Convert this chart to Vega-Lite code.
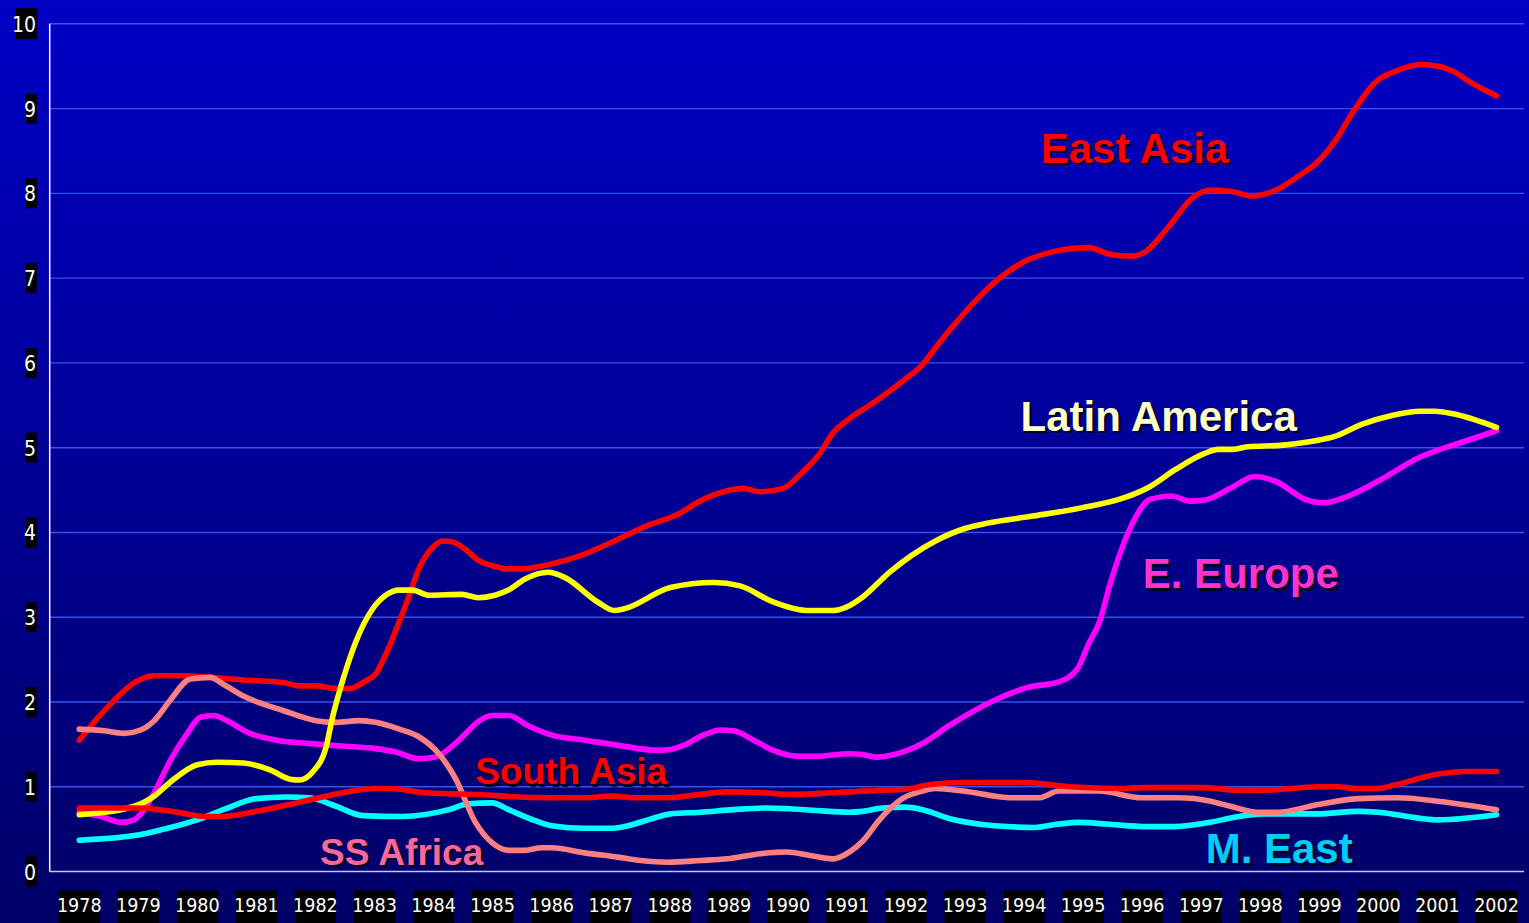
{
  "$schema": "https://vega.github.io/schema/vega-lite/v6.json",
  "width": 1529,
  "height": 923,
  "autosize": {"type": "none"},
  "padding": 0,
  "background": "#00008C",
  "config": {
    "view": {
      "stroke": null,
      "fill": {
        "gradient": "linear", "x1": 0, "y1": 0, "x2": 0, "y2": 1,
        "stops": [{"offset": 0, "color": "#0000C6"}, {"offset": 1, "color": "#000068"}]
      }
    }
  },
  "datasets": {
    "one": [{"k": 1}],
    "yticks": [{"v": 0}, {"v": 1}, {"v": 2}, {"v": 3}, {"v": 4}, {"v": 5}, {"v": 6}, {"v": 7}, {"v": 8}, {"v": 9}, {"v": 10}],
    "years": [{"year": 1978}, {"year": 1979}, {"year": 1980}, {"year": 1981}, {"year": 1982}, {"year": 1983}, {"year": 1984}, {"year": 1985}, {"year": 1986}, {"year": 1987}, {"year": 1988}, {"year": 1989}, {"year": 1990}, {"year": 1991}, {"year": 1992}, {"year": 1993}, {"year": 1994}, {"year": 1995}, {"year": 1996}, {"year": 1997}, {"year": 1998}, {"year": 1999}, {"year": 2000}, {"year": 2001}, {"year": 2002}],
    "labels": [
      {"label": "East Asia", "year": 1995.87, "v": 8.36, "group": "big"},
      {"label": "Latin America", "year": 1996.28, "v": 5.2, "group": "big"},
      {"label": "E. Europe", "year": 1997.67, "v": 3.34, "group": "big"},
      {"label": "South Asia", "year": 1986.33, "v": 1.03, "group": "small"},
      {"label": "SS Africa", "year": 1983.46, "v": 0.08, "group": "small"},
      {"label": "M. East", "year": 1998.32, "v": 0.1, "group": "big"}
    ],
    "series": [
      {"region": "M. East", "year": 1978, "v": 0.37},
      {"region": "M. East", "year": 1978.99, "v": 0.43},
      {"region": "M. East", "year": 1979.43, "v": 0.5},
      {"region": "M. East", "year": 1980.0, "v": 0.61},
      {"region": "M. East", "year": 1980.44, "v": 0.73},
      {"region": "M. East", "year": 1981.0, "v": 0.86},
      {"region": "M. East", "year": 1981.51, "v": 0.88},
      {"region": "M. East", "year": 1981.9, "v": 0.87},
      {"region": "M. East", "year": 1982.35, "v": 0.77},
      {"region": "M. East", "year": 1982.8, "v": 0.66},
      {"region": "M. East", "year": 1983.47, "v": 0.65},
      {"region": "M. East", "year": 1984.26, "v": 0.73},
      {"region": "M. East", "year": 1984.59, "v": 0.8},
      {"region": "M. East", "year": 1984.99, "v": 0.81},
      {"region": "M. East", "year": 1985.27, "v": 0.73},
      {"region": "M. East", "year": 1985.72, "v": 0.6},
      {"region": "M. East", "year": 1986.0, "v": 0.54},
      {"region": "M. East", "year": 1986.56, "v": 0.51},
      {"region": "M. East", "year": 1987.01, "v": 0.51},
      {"region": "M. East", "year": 1987.29, "v": 0.54},
      {"region": "M. East", "year": 1987.68, "v": 0.62},
      {"region": "M. East", "year": 1988.01, "v": 0.68},
      {"region": "M. East", "year": 1988.52, "v": 0.7},
      {"region": "M. East", "year": 1989.08, "v": 0.73},
      {"region": "M. East", "year": 1989.64, "v": 0.75},
      {"region": "M. East", "year": 1990.03, "v": 0.74},
      {"region": "M. East", "year": 1990.48, "v": 0.72},
      {"region": "M. East", "year": 1991.04, "v": 0.7},
      {"region": "M. East", "year": 1991.27, "v": 0.71},
      {"region": "M. East", "year": 1991.6, "v": 0.75},
      {"region": "M. East", "year": 1991.99, "v": 0.76},
      {"region": "M. East", "year": 1992.28, "v": 0.73},
      {"region": "M. East", "year": 1992.76, "v": 0.62},
      {"region": "M. East", "year": 1993.51, "v": 0.54},
      {"region": "M. East", "year": 1994.18, "v": 0.52},
      {"region": "M. East", "year": 1994.59, "v": 0.56},
      {"region": "M. East", "year": 1994.93, "v": 0.58},
      {"region": "M. East", "year": 1995.4, "v": 0.56},
      {"region": "M. East", "year": 1996.07, "v": 0.53},
      {"region": "M. East", "year": 1996.54, "v": 0.53},
      {"region": "M. East", "year": 1997.15, "v": 0.58},
      {"region": "M. East", "year": 1997.56, "v": 0.64},
      {"region": "M. East", "year": 1998.03, "v": 0.68},
      {"region": "M. East", "year": 1998.96, "v": 0.68},
      {"region": "M. East", "year": 1999.65, "v": 0.71},
      {"region": "M. East", "year": 2000.0, "v": 0.7},
      {"region": "M. East", "year": 2000.68, "v": 0.63},
      {"region": "M. East", "year": 2001.01, "v": 0.61},
      {"region": "M. East", "year": 2002, "v": 0.67},

      {"region": "E. Europe", "year": 1978, "v": 0.7},
      {"region": "E. Europe", "year": 1978.37, "v": 0.65},
      {"region": "E. Europe", "year": 1978.71, "v": 0.58},
      {"region": "E. Europe", "year": 1978.93, "v": 0.61},
      {"region": "E. Europe", "year": 1979.1, "v": 0.73},
      {"region": "E. Europe", "year": 1979.32, "v": 1.0},
      {"region": "E. Europe", "year": 1979.55, "v": 1.32},
      {"region": "E. Europe", "year": 1979.83, "v": 1.63},
      {"region": "E. Europe", "year": 1980.05, "v": 1.82},
      {"region": "E. Europe", "year": 1980.28, "v": 1.84},
      {"region": "E. Europe", "year": 1980.5, "v": 1.78},
      {"region": "E. Europe", "year": 1980.89, "v": 1.63},
      {"region": "E. Europe", "year": 1981.34, "v": 1.55},
      {"region": "E. Europe", "year": 1981.9, "v": 1.51},
      {"region": "E. Europe", "year": 1982.46, "v": 1.48},
      {"region": "E. Europe", "year": 1983.02, "v": 1.45},
      {"region": "E. Europe", "year": 1983.36, "v": 1.41},
      {"region": "E. Europe", "year": 1983.75, "v": 1.33},
      {"region": "E. Europe", "year": 1984.03, "v": 1.35},
      {"region": "E. Europe", "year": 1984.43, "v": 1.55},
      {"region": "E. Europe", "year": 1984.76, "v": 1.77},
      {"region": "E. Europe", "year": 1984.99, "v": 1.84},
      {"region": "E. Europe", "year": 1985.27, "v": 1.84},
      {"region": "E. Europe", "year": 1985.6, "v": 1.72},
      {"region": "E. Europe", "year": 1986.0, "v": 1.61},
      {"region": "E. Europe", "year": 1986.56, "v": 1.55},
      {"region": "E. Europe", "year": 1987.12, "v": 1.49},
      {"region": "E. Europe", "year": 1987.79, "v": 1.43},
      {"region": "E. Europe", "year": 1988.01, "v": 1.44},
      {"region": "E. Europe", "year": 1988.24, "v": 1.49},
      {"region": "E. Europe", "year": 1988.57, "v": 1.61},
      {"region": "E. Europe", "year": 1988.86, "v": 1.67},
      {"region": "E. Europe", "year": 1989.08, "v": 1.66},
      {"region": "E. Europe", "year": 1989.47, "v": 1.53},
      {"region": "E. Europe", "year": 1989.75, "v": 1.43},
      {"region": "E. Europe", "year": 1990.2, "v": 1.36},
      {"region": "E. Europe", "year": 1990.48, "v": 1.36},
      {"region": "E. Europe", "year": 1991.04, "v": 1.39},
      {"region": "E. Europe", "year": 1991.27, "v": 1.38},
      {"region": "E. Europe", "year": 1991.49, "v": 1.35},
      {"region": "E. Europe", "year": 1991.99, "v": 1.42},
      {"region": "E. Europe", "year": 1992.28, "v": 1.51},
      {"region": "E. Europe", "year": 1992.73, "v": 1.72},
      {"region": "E. Europe", "year": 1993.5, "v": 2.02},
      {"region": "E. Europe", "year": 1994.05, "v": 2.17},
      {"region": "E. Europe", "year": 1994.6, "v": 2.24},
      {"region": "E. Europe", "year": 1994.91, "v": 2.4},
      {"region": "E. Europe", "year": 1995.09, "v": 2.68},
      {"region": "E. Europe", "year": 1995.28, "v": 2.95},
      {"region": "E. Europe", "year": 1995.46, "v": 3.4},
      {"region": "E. Europe", "year": 1995.64, "v": 3.78},
      {"region": "E. Europe", "year": 1995.89, "v": 4.18},
      {"region": "E. Europe", "year": 1996.13, "v": 4.39},
      {"region": "E. Europe", "year": 1996.5, "v": 4.43},
      {"region": "E. Europe", "year": 1996.8, "v": 4.37},
      {"region": "E. Europe", "year": 1997.05, "v": 4.38},
      {"region": "E. Europe", "year": 1997.54, "v": 4.54},
      {"region": "E. Europe", "year": 1997.9, "v": 4.66},
      {"region": "E. Europe", "year": 1998.27, "v": 4.6},
      {"region": "E. Europe", "year": 1998.76, "v": 4.39},
      {"region": "E. Europe", "year": 1999.06, "v": 4.35},
      {"region": "E. Europe", "year": 1999.49, "v": 4.43},
      {"region": "E. Europe", "year": 1999.98, "v": 4.6},
      {"region": "E. Europe", "year": 2000.71, "v": 4.89},
      {"region": "E. Europe", "year": 2001.44, "v": 5.07},
      {"region": "E. Europe", "year": 2002, "v": 5.2},

      {"region": "East Asia", "year": 1978, "v": 1.55},
      {"region": "East Asia", "year": 1978.48, "v": 1.94},
      {"region": "East Asia", "year": 1978.99, "v": 2.25},
      {"region": "East Asia", "year": 1979.27, "v": 2.31},
      {"region": "East Asia", "year": 1979.77, "v": 2.31},
      {"region": "East Asia", "year": 1980.22, "v": 2.29},
      {"region": "East Asia", "year": 1980.78, "v": 2.26},
      {"region": "East Asia", "year": 1981.45, "v": 2.23},
      {"region": "East Asia", "year": 1981.73, "v": 2.19},
      {"region": "East Asia", "year": 1982.01, "v": 2.19},
      {"region": "East Asia", "year": 1982.35, "v": 2.16},
      {"region": "East Asia", "year": 1982.58, "v": 2.16},
      {"region": "East Asia", "year": 1982.85, "v": 2.25},
      {"region": "East Asia", "year": 1983.02, "v": 2.33},
      {"region": "East Asia", "year": 1983.19, "v": 2.56},
      {"region": "East Asia", "year": 1983.42, "v": 2.95},
      {"region": "East Asia", "year": 1983.59, "v": 3.26},
      {"region": "East Asia", "year": 1983.75, "v": 3.57},
      {"region": "East Asia", "year": 1983.98, "v": 3.82},
      {"region": "East Asia", "year": 1984.15, "v": 3.9},
      {"region": "East Asia", "year": 1984.31, "v": 3.89},
      {"region": "East Asia", "year": 1984.54, "v": 3.8},
      {"region": "East Asia", "year": 1984.76, "v": 3.67},
      {"region": "East Asia", "year": 1985.04, "v": 3.6},
      {"region": "East Asia", "year": 1985.27, "v": 3.57},
      {"region": "East Asia", "year": 1985.49, "v": 3.57},
      {"region": "East Asia", "year": 1985.94, "v": 3.62},
      {"region": "East Asia", "year": 1986.5, "v": 3.73},
      {"region": "East Asia", "year": 1987.06, "v": 3.9},
      {"region": "East Asia", "year": 1987.62, "v": 4.08},
      {"region": "East Asia", "year": 1988.18, "v": 4.23},
      {"region": "East Asia", "year": 1988.46, "v": 4.35},
      {"region": "East Asia", "year": 1989.02, "v": 4.5},
      {"region": "East Asia", "year": 1989.25, "v": 4.52},
      {"region": "East Asia", "year": 1989.53, "v": 4.48},
      {"region": "East Asia", "year": 1989.92, "v": 4.52},
      {"region": "East Asia", "year": 1990.26, "v": 4.72},
      {"region": "East Asia", "year": 1990.54, "v": 4.93},
      {"region": "East Asia", "year": 1990.76, "v": 5.17},
      {"region": "East Asia", "year": 1991.04, "v": 5.34},
      {"region": "East Asia", "year": 1991.49, "v": 5.55},
      {"region": "East Asia", "year": 1991.99, "v": 5.81},
      {"region": "East Asia", "year": 1992.28, "v": 5.98},
      {"region": "East Asia", "year": 1992.5, "v": 6.18},
      {"region": "East Asia", "year": 1992.84, "v": 6.47},
      {"region": "East Asia", "year": 1993.5, "v": 6.95},
      {"region": "East Asia", "year": 1993.99, "v": 7.19},
      {"region": "East Asia", "year": 1994.48, "v": 7.31},
      {"region": "East Asia", "year": 1995.09, "v": 7.36},
      {"region": "East Asia", "year": 1995.46, "v": 7.28},
      {"region": "East Asia", "year": 1995.82, "v": 7.26},
      {"region": "East Asia", "year": 1996.07, "v": 7.32},
      {"region": "East Asia", "year": 1996.44, "v": 7.6},
      {"region": "East Asia", "year": 1996.86, "v": 7.95},
      {"region": "East Asia", "year": 1997.17, "v": 8.04},
      {"region": "East Asia", "year": 1997.54, "v": 8.02},
      {"region": "East Asia", "year": 1997.84, "v": 7.97},
      {"region": "East Asia", "year": 1998.27, "v": 8.04},
      {"region": "East Asia", "year": 1998.64, "v": 8.2},
      {"region": "East Asia", "year": 1999.0, "v": 8.39},
      {"region": "East Asia", "year": 1999.28, "v": 8.63},
      {"region": "East Asia", "year": 1999.55, "v": 8.94},
      {"region": "East Asia", "year": 1999.98, "v": 9.33},
      {"region": "East Asia", "year": 2000.29, "v": 9.44},
      {"region": "East Asia", "year": 2000.71, "v": 9.52},
      {"region": "East Asia", "year": 2001.02, "v": 9.5},
      {"region": "East Asia", "year": 2001.26, "v": 9.44},
      {"region": "East Asia", "year": 2001.56, "v": 9.31},
      {"region": "East Asia", "year": 2002, "v": 9.15},

      {"region": "SS Africa", "year": 1978, "v": 1.68},
      {"region": "SS Africa", "year": 1978.43, "v": 1.66},
      {"region": "SS Africa", "year": 1978.76, "v": 1.63},
      {"region": "SS Africa", "year": 1979.04, "v": 1.67},
      {"region": "SS Africa", "year": 1979.27, "v": 1.78},
      {"region": "SS Africa", "year": 1979.55, "v": 2.03},
      {"region": "SS Africa", "year": 1979.88, "v": 2.27},
      {"region": "SS Africa", "year": 1980.22, "v": 2.29},
      {"region": "SS Africa", "year": 1980.44, "v": 2.21},
      {"region": "SS Africa", "year": 1980.78, "v": 2.07},
      {"region": "SS Africa", "year": 1981.45, "v": 1.9},
      {"region": "SS Africa", "year": 1982.01, "v": 1.78},
      {"region": "SS Africa", "year": 1982.35, "v": 1.76},
      {"region": "SS Africa", "year": 1982.74, "v": 1.78},
      {"region": "SS Africa", "year": 1983.02, "v": 1.76},
      {"region": "SS Africa", "year": 1983.42, "v": 1.68},
      {"region": "SS Africa", "year": 1983.75, "v": 1.59},
      {"region": "SS Africa", "year": 1984.09, "v": 1.39},
      {"region": "SS Africa", "year": 1984.37, "v": 1.1},
      {"region": "SS Africa", "year": 1984.71, "v": 0.58},
      {"region": "SS Africa", "year": 1984.99, "v": 0.34},
      {"region": "SS Africa", "year": 1985.27, "v": 0.25},
      {"region": "SS Africa", "year": 1985.55, "v": 0.25},
      {"region": "SS Africa", "year": 1985.83, "v": 0.28},
      {"region": "SS Africa", "year": 1986.0, "v": 0.28},
      {"region": "SS Africa", "year": 1986.56, "v": 0.22},
      {"region": "SS Africa", "year": 1987.12, "v": 0.17},
      {"region": "SS Africa", "year": 1987.51, "v": 0.13},
      {"region": "SS Africa", "year": 1987.96, "v": 0.11},
      {"region": "SS Africa", "year": 1988.52, "v": 0.13},
      {"region": "SS Africa", "year": 1988.97, "v": 0.15},
      {"region": "SS Africa", "year": 1989.53, "v": 0.21},
      {"region": "SS Africa", "year": 1989.98, "v": 0.23},
      {"region": "SS Africa", "year": 1990.37, "v": 0.19},
      {"region": "SS Africa", "year": 1990.76, "v": 0.15},
      {"region": "SS Africa", "year": 1991.04, "v": 0.23},
      {"region": "SS Africa", "year": 1991.27, "v": 0.36},
      {"region": "SS Africa", "year": 1991.55, "v": 0.61},
      {"region": "SS Africa", "year": 1991.94, "v": 0.86},
      {"region": "SS Africa", "year": 1992.28, "v": 0.95},
      {"region": "SS Africa", "year": 1992.5, "v": 0.98},
      {"region": "SS Africa", "year": 1992.97, "v": 0.95},
      {"region": "SS Africa", "year": 1993.78, "v": 0.87},
      {"region": "SS Africa", "year": 1994.25, "v": 0.87},
      {"region": "SS Africa", "year": 1994.59, "v": 0.95},
      {"region": "SS Africa", "year": 1995.26, "v": 0.95},
      {"region": "SS Africa", "year": 1996.0, "v": 0.87},
      {"region": "SS Africa", "year": 1996.61, "v": 0.87},
      {"region": "SS Africa", "year": 1997.16, "v": 0.83},
      {"region": "SS Africa", "year": 1997.49, "v": 0.77},
      {"region": "SS Africa", "year": 1997.96, "v": 0.7},
      {"region": "SS Africa", "year": 1998.3, "v": 0.7},
      {"region": "SS Africa", "year": 1998.98, "v": 0.79},
      {"region": "SS Africa", "year": 1999.65, "v": 0.86},
      {"region": "SS Africa", "year": 2000.33, "v": 0.87},
      {"region": "SS Africa", "year": 2001.0, "v": 0.83},
      {"region": "SS Africa", "year": 2002, "v": 0.73},

      {"region": "Latin America", "year": 1978, "v": 0.67},
      {"region": "Latin America", "year": 1978.93, "v": 0.77},
      {"region": "Latin America", "year": 1979.27, "v": 0.89},
      {"region": "Latin America", "year": 1979.55, "v": 1.06},
      {"region": "Latin America", "year": 1980.0, "v": 1.26},
      {"region": "Latin America", "year": 1980.33, "v": 1.29},
      {"region": "Latin America", "year": 1980.78, "v": 1.28},
      {"region": "Latin America", "year": 1981.23, "v": 1.2},
      {"region": "Latin America", "year": 1981.57, "v": 1.09},
      {"region": "Latin America", "year": 1981.73, "v": 1.08},
      {"region": "Latin America", "year": 1981.96, "v": 1.18},
      {"region": "Latin America", "year": 1982.18, "v": 1.47},
      {"region": "Latin America", "year": 1982.29, "v": 1.82},
      {"region": "Latin America", "year": 1982.46, "v": 2.25},
      {"region": "Latin America", "year": 1982.69, "v": 2.72},
      {"region": "Latin America", "year": 1982.97, "v": 3.1},
      {"region": "Latin America", "year": 1983.19, "v": 3.26},
      {"region": "Latin America", "year": 1983.42, "v": 3.32},
      {"region": "Latin America", "year": 1983.64, "v": 3.32},
      {"region": "Latin America", "year": 1983.92, "v": 3.26},
      {"region": "Latin America", "year": 1984.48, "v": 3.27},
      {"region": "Latin America", "year": 1984.76, "v": 3.23},
      {"region": "Latin America", "year": 1985.04, "v": 3.26},
      {"region": "Latin America", "year": 1985.27, "v": 3.32},
      {"region": "Latin America", "year": 1985.55, "v": 3.45},
      {"region": "Latin America", "year": 1985.94, "v": 3.53},
      {"region": "Latin America", "year": 1986.22, "v": 3.47},
      {"region": "Latin America", "year": 1986.78, "v": 3.18},
      {"region": "Latin America", "year": 1987.06, "v": 3.08},
      {"region": "Latin America", "year": 1987.23, "v": 3.1},
      {"region": "Latin America", "year": 1988.01, "v": 3.35},
      {"region": "Latin America", "year": 1988.74, "v": 3.41},
      {"region": "Latin America", "year": 1989.19, "v": 3.37},
      {"region": "Latin America", "year": 1989.75, "v": 3.18},
      {"region": "Latin America", "year": 1990.31, "v": 3.08},
      {"region": "Latin America", "year": 1990.76, "v": 3.08},
      {"region": "Latin America", "year": 1990.99, "v": 3.12},
      {"region": "Latin America", "year": 1991.27, "v": 3.24},
      {"region": "Latin America", "year": 1991.72, "v": 3.53},
      {"region": "Latin America", "year": 1992.5, "v": 3.9},
      {"region": "Latin America", "year": 1993.01, "v": 4.05},
      {"region": "Latin America", "year": 1993.38, "v": 4.11},
      {"region": "Latin America", "year": 1994.12, "v": 4.19},
      {"region": "Latin America", "year": 1994.97, "v": 4.29},
      {"region": "Latin America", "year": 1995.7, "v": 4.41},
      {"region": "Latin America", "year": 1996.13, "v": 4.54},
      {"region": "Latin America", "year": 1996.56, "v": 4.74},
      {"region": "Latin America", "year": 1997.05, "v": 4.93},
      {"region": "Latin America", "year": 1997.29, "v": 4.98},
      {"region": "Latin America", "year": 1997.54, "v": 4.98},
      {"region": "Latin America", "year": 1997.78, "v": 5.01},
      {"region": "Latin America", "year": 1998.39, "v": 5.03},
      {"region": "Latin America", "year": 1999.0, "v": 5.09},
      {"region": "Latin America", "year": 1999.25, "v": 5.13},
      {"region": "Latin America", "year": 1999.74, "v": 5.28},
      {"region": "Latin America", "year": 2000.23, "v": 5.38},
      {"region": "Latin America", "year": 2000.71, "v": 5.43},
      {"region": "Latin America", "year": 2000.96, "v": 5.43},
      {"region": "Latin America", "year": 2001.26, "v": 5.4},
      {"region": "Latin America", "year": 2002, "v": 5.24},

      {"region": "South Asia", "year": 1978, "v": 0.75},
      {"region": "South Asia", "year": 1978.99, "v": 0.75},
      {"region": "South Asia", "year": 1979.66, "v": 0.7},
      {"region": "South Asia", "year": 1980.11, "v": 0.65},
      {"region": "South Asia", "year": 1980.44, "v": 0.65},
      {"region": "South Asia", "year": 1981.0, "v": 0.71},
      {"region": "South Asia", "year": 1981.68, "v": 0.81},
      {"region": "South Asia", "year": 1982.46, "v": 0.93},
      {"region": "South Asia", "year": 1983.02, "v": 0.98},
      {"region": "South Asia", "year": 1983.25, "v": 0.98},
      {"region": "South Asia", "year": 1983.86, "v": 0.93},
      {"region": "South Asia", "year": 1984.99, "v": 0.9},
      {"region": "South Asia", "year": 1985.15, "v": 0.89},
      {"region": "South Asia", "year": 1986.0, "v": 0.87},
      {"region": "South Asia", "year": 1986.56, "v": 0.87},
      {"region": "South Asia", "year": 1987.01, "v": 0.89},
      {"region": "South Asia", "year": 1987.45, "v": 0.87},
      {"region": "South Asia", "year": 1987.96, "v": 0.87},
      {"region": "South Asia", "year": 1988.52, "v": 0.91},
      {"region": "South Asia", "year": 1988.97, "v": 0.94},
      {"region": "South Asia", "year": 1989.53, "v": 0.93},
      {"region": "South Asia", "year": 1990.09, "v": 0.91},
      {"region": "South Asia", "year": 1990.76, "v": 0.93},
      {"region": "South Asia", "year": 1991.32, "v": 0.95},
      {"region": "South Asia", "year": 1991.99, "v": 0.97},
      {"region": "South Asia", "year": 1992.44, "v": 1.03},
      {"region": "South Asia", "year": 1992.97, "v": 1.05},
      {"region": "South Asia", "year": 1993.98, "v": 1.05},
      {"region": "South Asia", "year": 1994.79, "v": 1.0},
      {"region": "South Asia", "year": 1995.6, "v": 0.98},
      {"region": "South Asia", "year": 1996.07, "v": 0.99},
      {"region": "South Asia", "year": 1997.02, "v": 0.99},
      {"region": "South Asia", "year": 1997.63, "v": 0.96},
      {"region": "South Asia", "year": 1998.1, "v": 0.96},
      {"region": "South Asia", "year": 1998.98, "v": 1.0},
      {"region": "South Asia", "year": 1999.32, "v": 1.0},
      {"region": "South Asia", "year": 1999.59, "v": 0.98},
      {"region": "South Asia", "year": 2000.0, "v": 0.98},
      {"region": "South Asia", "year": 2000.27, "v": 1.02},
      {"region": "South Asia", "year": 2001.01, "v": 1.15},
      {"region": "South Asia", "year": 2001.48, "v": 1.18},
      {"region": "South Asia", "year": 2002, "v": 1.18}
    ]
  },
  "layer": [
    {
      "data": {"name": "yticks"},
      "transform": [{"filter": "datum.v > 0"}],
      "mark": {"type": "rule", "color": "#3355EE", "strokeWidth": 1.4},
      "encoding": {
        "y": {"field": "v", "type": "quantitative", "scale": {"domain": [-0.548, 10.222], "nice": false, "zero": false}, "axis": null},
        "x": {"datum": 1977.5, "type": "quantitative", "scale": {"domain": [1976.743, 2002.466], "nice": false, "zero": false}, "axis": null},
        "x2": {"datum": 2002.466}
      }
    },
    {
      "data": {"name": "one"},
      "mark": {"type": "rule", "color": "#FFFFFF", "strokeWidth": 1.5},
      "encoding": {
        "x": {"datum": 1977.5, "type": "quantitative", "scale": {"domain": [1976.743, 2002.466], "nice": false, "zero": false}, "axis": null},
        "y": {"datum": 0, "type": "quantitative", "scale": {"domain": [-0.548, 10.222], "nice": false, "zero": false}, "axis": null},
        "y2": {"datum": 10}
      }
    },
    {
      "data": {"name": "one"},
      "mark": {"type": "rule", "color": "#C8C8EC", "strokeWidth": 1.5},
      "encoding": {
        "x": {"datum": 1977.5, "type": "quantitative", "scale": {"domain": [1976.743, 2002.466], "nice": false, "zero": false}, "axis": null},
        "x2": {"datum": 2002.466},
        "y": {"datum": 0, "type": "quantitative", "scale": {"domain": [-0.548, 10.222], "nice": false, "zero": false}, "axis": null}
      }
    },
    {
      "data": {"name": "series"},
      "mark": {"type": "line", "strokeWidth": 5.6, "interpolate": "monotone", "strokeCap": "round", "strokeJoin": "round"},
      "encoding": {
        "x": {
          "field": "year", "type": "quantitative",
          "scale": {"domain": [1976.743, 2002.466], "nice": false, "zero": false},
          "axis": {"orient": "bottom", "offset": -47, "values": [1977.5, 1978.5, 1979.5, 1980.5, 1981.5, 1982.5, 1983.5, 1984.5, 1985.5, 1986.5, 1987.5, 1988.5, 1989.5, 1990.5, 1991.5, 1992.5, 1993.5, 1994.5, 1995.5, 1996.5, 1997.5, 1998.5, 1999.5, 2000.5, 2001.5], "labels": false, "domain": false, "grid": false, "tickSize": 6, "tickColor": "#C8C8EC", "tickWidth": 1.5, "title": null}
        },
        "y": {
          "field": "v", "type": "quantitative",
          "scale": {"domain": [-0.548, 10.222], "nice": false, "zero": false},
          "axis": {"orient": "left", "offset": -45, "values": [0, 1, 2, 3, 4, 5, 6, 7, 8, 9, 10], "labels": false, "domain": false, "grid": false, "tickSize": 5, "tickColor": "#FFFFFF", "tickWidth": 1.5, "title": null}
        },
        "stroke": {
          "field": "region", "type": "nominal", "legend": null,
          "scale": {"domain": ["M. East", "E. Europe", "East Asia", "SS Africa", "Latin America", "South Asia"], "range": ["#00FFFF", "#FF00FF", "#FF0000", "#FF8080", "#FFFF00", "#FF0000"]}
        }
      }
    },
    {
      "data": {"name": "yticks"},
      "transform": [{"filter": "datum.v < 10"}],
      "mark": {"type": "bar", "color": "#000000", "height": 30},
      "encoding": {
        "y": {"field": "v", "type": "quantitative", "scale": {"domain": [-0.548, 10.222], "nice": false, "zero": false}, "axis": null},
        "x": {"datum": 1977.096, "type": "quantitative", "scale": {"domain": [1976.743, 2002.466], "nice": false, "zero": false}, "axis": null},
        "x2": {"datum": 1977.281}
      }
    },
    {
      "data": {"name": "yticks"},
      "transform": [{"filter": "datum.v == 10"}],
      "mark": {"type": "bar", "color": "#000000", "height": 31},
      "encoding": {
        "y": {"field": "v", "type": "quantitative", "scale": {"domain": [-0.548, 10.222], "nice": false, "zero": false}, "axis": null},
        "x": {"datum": 1976.928, "type": "quantitative", "scale": {"domain": [1976.743, 2002.466], "nice": false, "zero": false}, "axis": null},
        "x2": {"datum": 1977.281}
      }
    },
    {
      "data": {"name": "yticks"},
      "mark": {"type": "text", "color": "#FFFFFF", "font": "Liberation Sans Narrow, Arial Narrow, DejaVu Sans Condensed, Liberation Sans", "fontSize": 21, "align": "right", "baseline": "alphabetic", "dy": 8},
      "encoding": {
        "y": {"field": "v", "type": "quantitative", "scale": {"domain": [-0.548, 10.222], "nice": false, "zero": false}, "axis": null},
        "x": {"datum": 1977.268, "type": "quantitative", "scale": {"domain": [1976.743, 2002.466], "nice": false, "zero": false}, "axis": null},
        "text": {"field": "v", "type": "quantitative", "format": "d"}
      }
    },
    {
      "data": {"name": "years"},
      "mark": {"type": "bar", "color": "#000000", "width": 41},
      "encoding": {
        "x": {"field": "year", "type": "quantitative", "scale": {"domain": [1976.743, 2002.466], "nice": false, "zero": false}, "axis": null},
        "y": {"datum": -0.222, "type": "quantitative", "scale": {"domain": [-0.548, 10.222], "nice": false, "zero": false}, "axis": null},
        "y2": {"datum": -0.7}
      }
    },
    {
      "data": {"name": "years"},
      "mark": {"type": "text", "color": "#FFFFFF", "font": "Liberation Sans Narrow, Arial Narrow, DejaVu Sans Condensed, Liberation Sans", "fontSize": 19.5, "align": "center", "baseline": "alphabetic"},
      "encoding": {
        "x": {"field": "year", "type": "quantitative", "scale": {"domain": [1976.743, 2002.466], "nice": false, "zero": false}, "axis": null},
        "y": {"datum": -0.479, "type": "quantitative", "scale": {"domain": [-0.548, 10.222], "nice": false, "zero": false}, "axis": null},
        "text": {"field": "year", "type": "quantitative", "format": "d"}
      }
    },
    {
      "data": {"name": "labels"},
      "transform": [{"filter": "datum.group == 'big'"}],
      "mark": {"type": "text", "color": "#000020", "font": "Liberation Sans, Arial, sans-serif", "fontWeight": "bold", "fontSize": 42, "align": "center", "baseline": "alphabetic", "dx": 2.5, "dy": 2.5},
      "encoding": {
        "x": {"field": "year", "type": "quantitative", "scale": {"domain": [1976.743, 2002.466], "nice": false, "zero": false}, "axis": null},
        "y": {"field": "v", "type": "quantitative", "scale": {"domain": [-0.548, 10.222], "nice": false, "zero": false}, "axis": null},
        "text": {"field": "label", "type": "nominal"}
      }
    },
    {
      "data": {"name": "labels"},
      "transform": [{"filter": "datum.group == 'small'"}],
      "mark": {"type": "text", "color": "#000020", "font": "Liberation Sans, Arial, sans-serif", "fontWeight": "bold", "fontSize": 37, "align": "center", "baseline": "alphabetic", "dx": 2.5, "dy": 2.5},
      "encoding": {
        "x": {"field": "year", "type": "quantitative", "scale": {"domain": [1976.743, 2002.466], "nice": false, "zero": false}, "axis": null},
        "y": {"field": "v", "type": "quantitative", "scale": {"domain": [-0.548, 10.222], "nice": false, "zero": false}, "axis": null},
        "text": {"field": "label", "type": "nominal"}
      }
    },
    {
      "data": {"name": "labels"},
      "transform": [{"filter": "datum.group == 'big'"}],
      "mark": {"type": "text", "font": "Liberation Sans, Arial, sans-serif", "fontWeight": "bold", "fontSize": 42, "align": "center", "baseline": "alphabetic"},
      "encoding": {
        "x": {"field": "year", "type": "quantitative", "scale": {"domain": [1976.743, 2002.466], "nice": false, "zero": false}, "axis": null},
        "y": {"field": "v", "type": "quantitative", "scale": {"domain": [-0.548, 10.222], "nice": false, "zero": false}, "axis": null},
        "text": {"field": "label", "type": "nominal"},
        "fill": {
          "field": "label", "type": "nominal", "legend": null,
          "scale": {"domain": ["East Asia", "Latin America", "E. Europe", "South Asia", "SS Africa", "M. East"], "range": ["#FF0000", "#FFFFCC", "#FF33CC", "#FF0000", "#FF6699", "#00CCFF"]}
        }
      }
    },
    {
      "data": {"name": "labels"},
      "transform": [{"filter": "datum.group == 'small'"}],
      "mark": {"type": "text", "font": "Liberation Sans, Arial, sans-serif", "fontWeight": "bold", "fontSize": 37, "align": "center", "baseline": "alphabetic"},
      "encoding": {
        "x": {"field": "year", "type": "quantitative", "scale": {"domain": [1976.743, 2002.466], "nice": false, "zero": false}, "axis": null},
        "y": {"field": "v", "type": "quantitative", "scale": {"domain": [-0.548, 10.222], "nice": false, "zero": false}, "axis": null},
        "text": {"field": "label", "type": "nominal"},
        "fill": {
          "field": "label", "type": "nominal", "legend": null,
          "scale": {"domain": ["East Asia", "Latin America", "E. Europe", "South Asia", "SS Africa", "M. East"], "range": ["#FF0000", "#FFFFCC", "#FF33CC", "#FF0000", "#FF6699", "#00CCFF"]}
        }
      }
    }
  ]
}
